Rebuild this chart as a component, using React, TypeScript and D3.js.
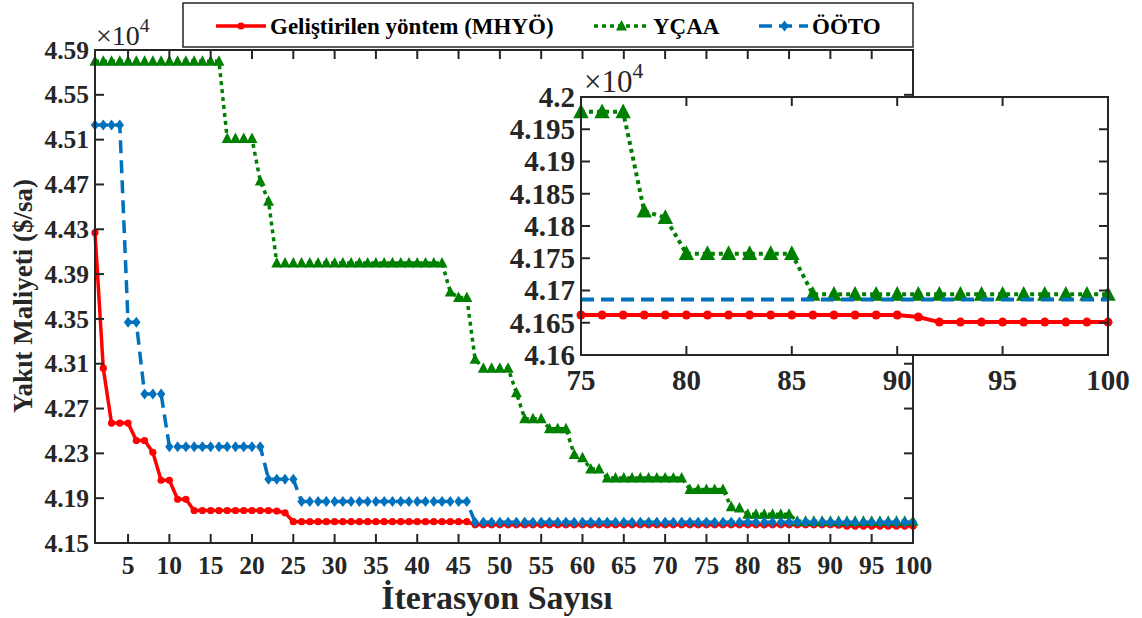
import * as d3 from 'd3';
import { useEffect, useRef } from 'react';

// değerler ×10^4 ölçeğinde
const seriesNames = ['Geliştirilen yöntem (MHYÖ)', 'YÇAA', 'ÖÖTO'];
const seriesColors = ['#ff0000', '#008000', '#0072bd'];

const mhyo = [
  4.427, 4.306, 4.257, 4.257, 4.257, 4.2415, 4.2415, 4.231, 4.206, 4.206,
  4.189, 4.189, 4.179, 4.179, 4.179, 4.179, 4.179, 4.179, 4.179, 4.179,
  4.179, 4.179, 4.1785, 4.177, 4.169, 4.169, 4.169, 4.169, 4.169, 4.169,
  4.169, 4.169, 4.169, 4.169, 4.169, 4.169, 4.169, 4.169, 4.169, 4.169,
  4.169, 4.169, 4.169, 4.169, 4.169, 4.169, 4.1662, 4.1662, 4.1662, 4.1662,
  4.1662, 4.1662, 4.1662, 4.1662, 4.1662, 4.1662, 4.1662, 4.1662, 4.1662, 4.1662,
  4.1662, 4.1662, 4.1662, 4.1662, 4.1662, 4.1662, 4.1662, 4.1662, 4.1662, 4.1662,
  4.1662, 4.1662, 4.1662, 4.1662, 4.1662, 4.1662, 4.1662, 4.1662, 4.1662, 4.1662,
  4.1662, 4.1662, 4.1662, 4.1662, 4.1662, 4.1662, 4.1662, 4.1662, 4.1662, 4.1662,
  4.1659, 4.1651, 4.1651, 4.1651, 4.1651, 4.1651, 4.1651, 4.1651, 4.1651, 4.1651,
];

const ycaa = [
  4.58, 4.58, 4.58, 4.58, 4.58, 4.58, 4.58, 4.58, 4.58, 4.58,
  4.58, 4.58, 4.58, 4.58, 4.58, 4.58, 4.511, 4.511, 4.511, 4.511,
  4.473, 4.455, 4.4, 4.4, 4.4, 4.4, 4.4, 4.4, 4.4, 4.4,
  4.4, 4.4, 4.4, 4.4, 4.4, 4.4, 4.4, 4.4, 4.4, 4.4,
  4.4, 4.4, 4.4, 4.374, 4.369, 4.369, 4.314, 4.306, 4.306, 4.306,
  4.306, 4.284, 4.261, 4.261, 4.261, 4.252, 4.252, 4.252, 4.229, 4.226,
  4.216, 4.216, 4.208, 4.208, 4.208, 4.208, 4.208, 4.208, 4.208, 4.208,
  4.208, 4.208, 4.1977, 4.1977, 4.1977, 4.1977, 4.1977, 4.1823, 4.1813, 4.1757,
  4.1757, 4.1757, 4.1757, 4.1757, 4.1757, 4.1694, 4.1694, 4.1694, 4.1694, 4.1694,
  4.1694, 4.1694, 4.1694, 4.1694, 4.1694, 4.1694, 4.1694, 4.1694, 4.1694, 4.1694,
];

const ooto = [
  4.523, 4.523, 4.523, 4.523, 4.347, 4.347, 4.283, 4.283, 4.283, 4.236,
  4.236, 4.236, 4.236, 4.236, 4.236, 4.236, 4.236, 4.236, 4.236, 4.236,
  4.236, 4.207, 4.207, 4.207, 4.207, 4.187, 4.187, 4.187, 4.187, 4.187,
  4.187, 4.187, 4.187, 4.187, 4.187, 4.187, 4.187, 4.187, 4.187, 4.187,
  4.187, 4.187, 4.187, 4.187, 4.187, 4.187, 4.1686, 4.1686, 4.1686, 4.1686,
  4.1686, 4.1686, 4.1686, 4.1686, 4.1686, 4.1686, 4.1686, 4.1686, 4.1686, 4.1686,
  4.1686, 4.1686, 4.1686, 4.1686, 4.1686, 4.1686, 4.1686, 4.1686, 4.1686, 4.1686,
  4.1686, 4.1686, 4.1686, 4.1686, 4.1686, 4.1686, 4.1686, 4.1686, 4.1686, 4.1686,
  4.1686, 4.1686, 4.1686, 4.1686, 4.1686, 4.1686, 4.1686, 4.1686, 4.1686, 4.1686,
  4.1686, 4.1686, 4.1686, 4.1686, 4.1686, 4.1686, 4.1686, 4.1686, 4.1686, 4.1686,
];

const mainXTicks = [5, 10, 15, 20, 25, 30, 35, 40, 45, 50, 55, 60, 65, 70, 75, 80, 85, 90, 95, 100];
const mainYTicks = [4.15, 4.19, 4.23, 4.27, 4.31, 4.35, 4.39, 4.43, 4.47, 4.51, 4.55, 4.59];
const insetXTicks = [75, 80, 85, 90, 95, 100];
const insetYTicks = [4.16, 4.165, 4.17, 4.175, 4.18, 4.185, 4.19, 4.195, 4.2];

const FONT = "'Liberation Serif', 'Times New Roman', serif";
const AXIS = '#262626';

type Sel = d3.Selection<SVGGElement, unknown, null, undefined>;

const markerPath = (kind: number, s: number) => {
  if (kind === 1) return `M0,${-s * 0.6}L${s * 0.55},${s * 0.45}L${-s * 0.55},${s * 0.45}Z`;
  if (kind === 2) return `M0,${-s * 0.55}L${s * 0.42},0L0,${s * 0.55}L${-s * 0.42},0Z`;
  return '';
};

const Chart = () => {
  const ref = useRef<HTMLDivElement>(null);
  const width = 1142;
  const height = 618;

  useEffect(() => {
    if (!ref.current) return;
    const svg = d3
      .create('svg')
      .attr('width', width)
      .attr('height', height)
      .style('position', 'absolute')
      .style('left', '0px')
      .style('top', '0px')
      .style('background', '#fff');

    const allSeries = [mhyo, ycaa, ooto];

    // seri çizimi (ana grafik ve iç grafik için ortak)
    const drawSeries = (
      g: Sel,
      x: d3.ScaleLinear<number, number>,
      y: d3.ScaleLinear<number, number>,
      start: number,
      big: boolean,
      showDiamonds: boolean
    ) => {
      const lw = big ? 4 : 3.5;
      allSeries.forEach((values, k) => {
        const pts = values.map((v, i) => ({ it: i + 1, v })).filter((d) => d.it >= start);
        const line = d3
          .line<{ it: number; v: number }>()
          .x((d) => x(d.it))
          .y((d) => y(d.v));
        const path = g
          .append('path')
          .datum(pts)
          .attr('fill', 'none')
          .attr('stroke', seriesColors[k])
          .attr('stroke-width', lw)
          .attr('stroke-linejoin', 'round')
          .attr('d', line);
        if (k === 1) path.attr('stroke-dasharray', '4 4');
        if (k === 2) path.attr('stroke-dasharray', '13 7');

        const s = big ? 14 : 10;
        if (k === 0) {
          g.append('g')
            .selectAll('circle')
            .data(pts)
            .join('circle')
            .attr('cx', (d) => x(d.it))
            .attr('cy', (d) => y(d.v))
            .attr('r', big ? 4.5 : 3.6)
            .attr('fill', seriesColors[k]);
        } else if (k === 1 || showDiamonds) {
          g.append('g')
            .selectAll('path')
            .data(pts)
            .join('path')
            .attr('transform', (d) => `translate(${x(d.it)},${y(d.v)})`)
            .attr('d', markerPath(k, s))
            .attr('fill', seriesColors[k]);
        }
      });
    };

    // eksen kutusu ve çentikler
    const drawFrame = (
      g: Sel,
      x: d3.ScaleLinear<number, number>,
      y: d3.ScaleLinear<number, number>,
      xTicks: number[],
      yTicks: number[],
      fs: number,
      fmt: (d: number) => string
    ) => {
      const [x0, x1] = x.range();
      const [y0, y1] = y.range();
      const tl = 9;
      g.append('rect')
        .attr('x', x0)
        .attr('y', y1)
        .attr('width', x1 - x0)
        .attr('height', y0 - y1)
        .attr('fill', 'none')
        .attr('stroke', AXIS)
        .attr('stroke-width', 2);
      const t = g.append('g').attr('stroke', AXIS).attr('stroke-width', 2);
      xTicks.forEach((d) => {
        t.append('line').attr('x1', x(d)).attr('x2', x(d)).attr('y1', y0).attr('y2', y0 - tl);
        t.append('line').attr('x1', x(d)).attr('x2', x(d)).attr('y1', y1).attr('y2', y1 + tl);
      });
      yTicks.forEach((d) => {
        t.append('line').attr('x1', x0).attr('x2', x0 + tl).attr('y1', y(d)).attr('y2', y(d));
        t.append('line').attr('x1', x1).attr('x2', x1 - tl).attr('y1', y(d)).attr('y2', y(d));
      });
      g.append('g')
        .selectAll('text')
        .data(xTicks)
        .join('text')
        .attr('x', (d) => x(d))
        .attr('y', y0 + fs * 1.2)
        .attr('text-anchor', 'middle')
        .attr('font-family', FONT)
        .attr('font-weight', 'bold')
        .attr('font-size', fs)
        .attr('fill', AXIS)
        .text((d) => String(d));
      g.append('g')
        .selectAll('text')
        .data(yTicks)
        .join('text')
        .attr('x', x0 - 6)
        .attr('y', (d) => y(d))
        .attr('dy', '0.34em')
        .attr('text-anchor', 'end')
        .attr('font-family', FONT)
        .attr('font-weight', 'bold')
        .attr('font-size', fs)
        .attr('fill', AXIS)
        .text((d) => fmt(d));
    };

    const exponent = (g: Sel, px: number, py: number, fs: number) => {
      const t = g
        .append('text')
        .attr('x', px)
        .attr('y', py)
        .attr('font-family', FONT)
        .attr('font-size', fs)
        .attr('fill', AXIS);
      t.append('tspan').text('×10');
      t.append('tspan').attr('font-size', fs * 0.7).attr('dy', -fs * 0.45).text('4');
    };

    // ana grafik
    const x = d3.scaleLinear().domain([1, 100]).range([95, 913]);
    const y = d3.scaleLinear().domain([4.15, 4.59]).range([543, 50]);
    const main = svg.append('g') as unknown as Sel;
    drawSeries(main, x, y, 1, false, true);
    drawFrame(main, x, y, mainXTicks, mainYTicks, 25.5, (d) => d.toFixed(2));
    exponent(main, 96, 45, 28);

    main
      .append('text')
      .attr('x', 497)
      .attr('y', 609)
      .attr('text-anchor', 'middle')
      .attr('font-family', FONT)
      .attr('font-weight', 'bold')
      .attr('font-size', 34)
      .attr('fill', AXIS)
      .text('İterasyon Sayısı');
    main
      .append('text')
      .attr('transform', `translate(32,296) rotate(-90)`)
      .attr('text-anchor', 'middle')
      .attr('font-family', FONT)
      .attr('font-weight', 'bold')
      .attr('font-size', 27)
      .attr('fill', AXIS)
      .text('Yakıt Maliyeti ($/sa)');

    // lejant
    const leg = svg.append('g');
    leg
      .append('rect')
      .attr('x', 183)
      .attr('y', 3)
      .attr('width', 730)
      .attr('height', 44)
      .attr('fill', '#fff')
      .attr('stroke', AXIS)
      .attr('stroke-width', 1.5);
    const legX = [216, 594, 761];
    const legLen = [50, 55, 47];
    seriesNames.forEach((name, k) => {
      const ly = 26;
      const l = leg
        .append('line')
        .attr('x1', legX[k])
        .attr('x2', legX[k] + legLen[k])
        .attr('y1', ly)
        .attr('y2', ly)
        .attr('stroke', seriesColors[k])
        .attr('stroke-width', 3.5);
      if (k === 1) l.attr('stroke-dasharray', '4 4');
      if (k === 2) l.attr('stroke-dasharray', '13 7').attr('x1', legX[k] - 2);
      const cx = legX[k] + legLen[k] / 2;
      if (k === 0) leg.append('circle').attr('cx', cx).attr('cy', ly).attr('r', 3.6).attr('fill', seriesColors[k]);
      else
        leg
          .append('path')
          .attr('transform', `translate(${cx},${ly})`)
          .attr('d', markerPath(k, 10))
          .attr('fill', seriesColors[k]);
      leg
        .append('text')
        .attr('x', legX[k] + legLen[k] + 4)
        .attr('y', ly)
        .attr('dy', '0.34em')
        .attr('font-family', FONT)
        .attr('font-weight', 'bold')
        .attr('font-size', 23)
        .attr('fill', '#000')
        .text(name);
    });

    // iç grafik (75-100 yakınlaştırma)
    const xi = d3.scaleLinear().domain([75, 100]).range([581, 1108]);
    const yi = d3.scaleLinear().domain([4.16, 4.2]).range([355, 97]);
    const inset = svg.append('g') as unknown as Sel;
    inset
      .append('rect')
      .attr('x', 581)
      .attr('y', 97)
      .attr('width', 1108 - 581)
      .attr('height', 355 - 97)
      .attr('fill', '#fff');
    drawSeries(inset, xi, yi, 75, true, false);
    drawFrame(inset, xi, yi, insetXTicks, insetYTicks, 29, (d) => String(+d.toFixed(3)));
    exponent(inset, 584, 92, 31);

    ref.current.innerHTML = '';
    ref.current.appendChild(svg.node()!);
  }, [ref]);

  return <div ref={ref} />;
};

export default function App() {
  return <Chart />;
}
